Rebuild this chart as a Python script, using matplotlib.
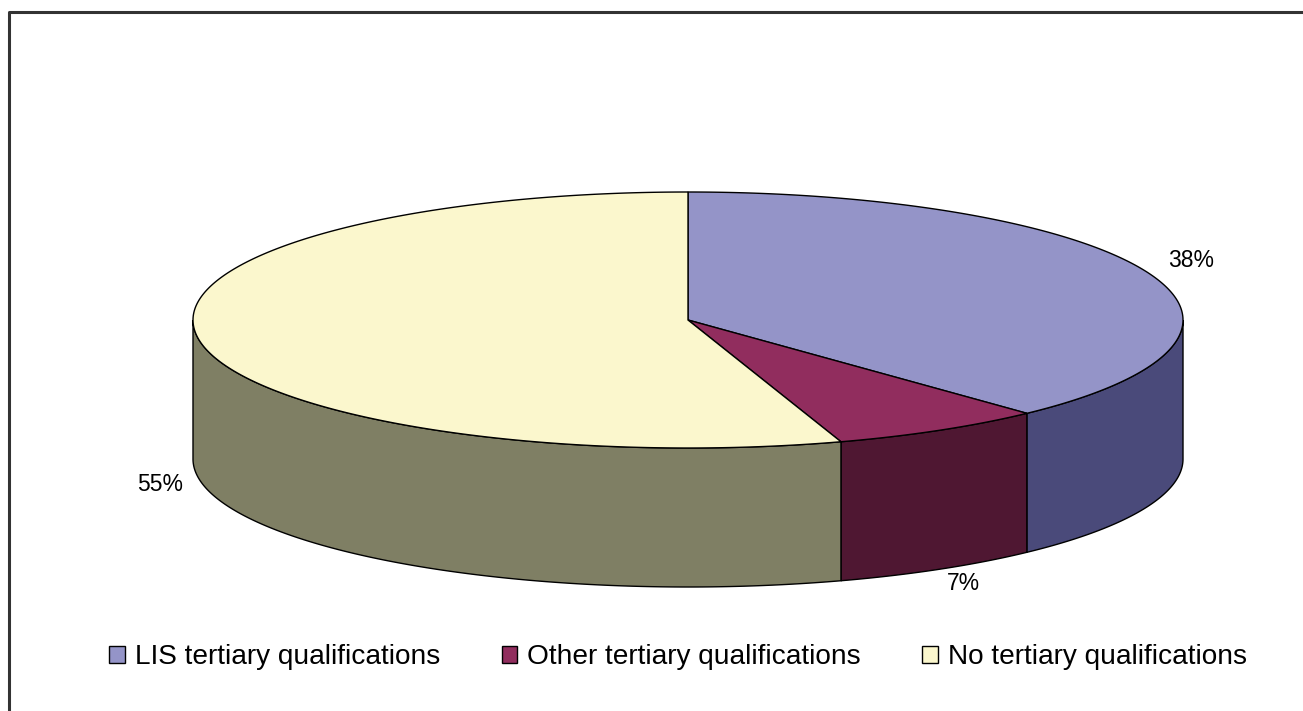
import numpy as np
import matplotlib.pyplot as plt
from matplotlib.patches import Polygon, Patch

# ---- data ----
categories = ["LIS tertiary qualifications", "Other tertiary qualifications",
              "No tertiary qualifications"]
shares = [38, 7, 55]
top_colors = ["#9494c8", "#912d5e", "#fbf7cd"]
side_colors = ["#4a4a7a", "#4f1732", "#7f7f64"]

# ---- layout (pixels, y up) ----
W, H = 1303, 711
cx, cy = 688, H - 320
rx, ry = 495, 128
depth = 139


def ell(t_deg, drop=0.0):
    t = np.radians(t_deg)
    return cx + rx * np.sin(t), cy + ry * np.cos(t) - drop


fig = plt.figure(figsize=(W / 100, H / 100), dpi=100)
ax = fig.add_axes([0, 0, 1, 1])
ax.set_xlim(0, W)
ax.set_ylim(0, H)
ax.axis("off")

fracs = np.array(shares, dtype=float) / sum(shares)
bounds = np.concatenate([[0], np.cumsum(fracs) * 360])

# side walls (front half only: 90..270 deg clockwise from top)
for i in range(len(shares)):
    t1 = max(bounds[i], 90)
    t2 = min(bounds[i + 1], 270)
    if t2 <= t1:
        continue
    ts = np.linspace(t1, t2, 200)
    xs, ys = ell(ts)
    xb, yb = ell(ts[::-1], depth)
    pts = np.column_stack([np.concatenate([xs, xb]), np.concatenate([ys, yb])])
    ax.add_patch(Polygon(pts, closed=True, facecolor=side_colors[i],
                         edgecolor="black", linewidth=1.0))

# top wedges
for i in range(len(shares)):
    ts = np.linspace(bounds[i], bounds[i + 1], 300)
    xs, ys = ell(ts)
    pts = np.column_stack([np.concatenate([[cx], xs]), np.concatenate([[cy], ys])])
    ax.add_patch(Polygon(pts, closed=True, facecolor=top_colors[i],
                         edgecolor="black", linewidth=1.0))

# percentage labels
for i, v in enumerate(shares):
    mid = (bounds[i] + bounds[i + 1]) / 2
    t = np.radians(mid)
    k = 1.08 if np.sin(t) < 0 else 1.093
    lx = cx + rx * k * np.sin(t)
    ly = cy + ry * 1.1 * np.cos(t)
    if np.cos(t) < 0:
        ly -= depth + 3
    else:
        ly += 8
    ax.text(lx, ly, f"{v}%", ha="center", va="center",
            fontsize=16.5, family="Liberation Sans")

# frame line (left / top)
ax.plot([9, 9, W], [0, H - 12, H - 12], color="#333333", linewidth=2.2,
        solid_capstyle="butt")

handles = [Patch(facecolor=c, edgecolor="black", linewidth=1.0) for c in top_colors]
fig.legend(handles, categories, loc="center", bbox_to_anchor=(678 / W, 1 - 657 / H),
           ncol=3, frameon=False, prop={"family": "Liberation Sans", "size": 20.2},
           handlelength=0.55, handleheight=0.55, handletextpad=0.35,
           columnspacing=2.2)

fig.savefig("out.png", dpi=100)
